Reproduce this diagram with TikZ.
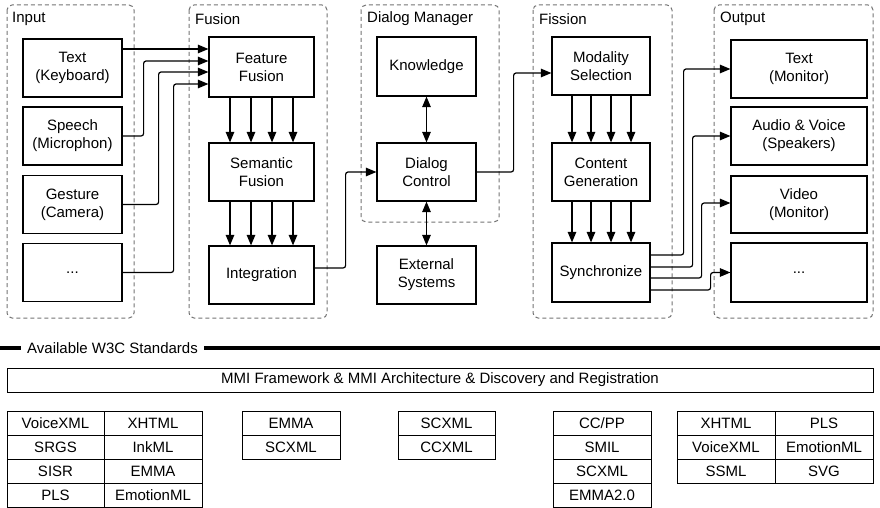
\documentclass[tikz,border=0pt]{standalone}
\usepackage{fontspec}
\setmainfont{Liberation Sans}
\usetikzlibrary{arrows.meta,calc}
\begin{document}
\begin{tikzpicture}[x=1pt,y=-1pt,
  every node/.style={font=\fontsize{15}{18}\selectfont},
  box/.style={draw,line width=1.2pt,inner sep=0pt,align=center},
  grp/.style={draw=black!55,dash pattern=on 4pt off 3pt,line width=1pt,rounded corners=5pt},
  gtitle/.style={anchor=west,inner sep=0pt},
  arr/.style={line width=1.2pt,-{Triangle[length=10.5pt,width=8.5pt]},rounded corners=2.5pt},
  darr/.style={line width=1.2pt,{Triangle[length=10.5pt,width=8.5pt]}-{Triangle[length=10.5pt,width=8.5pt]}},
  cell/.style={draw,line width=1pt,inner sep=0pt,minimum height=24pt}]
\useasboundingbox (0,0) rectangle (880,508);
% groups
\draw[grp] (7,5) rectangle (134,318);
\draw[grp] (189,5) rectangle (327,318);
\draw[grp] (361,5) rectangle (499,222);
\draw[grp] (533,5) rectangle (672,318);
\draw[grp] (714,5) rectangle (873,318);
\node[gtitle] (tin) at (12,19) {Input};
\node[gtitle] (tfu) at (195,19) {Fusion};
\node[gtitle] (tdm) at (367,19) {Dialog Manager};
\node[gtitle] (tfi) at (539,19) {Fission};
\node[gtitle] (tou) at (720,19) {Output};
% input
\node[box,minimum width=99pt,minimum height=58pt] (itx) at (72.5,68) {Text\\(Keyboard)};
\node[box,minimum width=99pt,minimum height=58pt] (isp) at (72.5,136) {Speech\\(Microphon)};
\node[box,minimum width=99pt,minimum height=58pt] (ige) at (72.5,204.5) {Gesture\\(Camera)};
\node[box,minimum width=99pt,minimum height=58pt] (idt) at (72.5,272.5) {...};
% fusion
\node[box,minimum width=105pt,minimum height=60pt] (ff) at (261.5,67) {Feature\\Fusion};
\node[box,minimum width=105pt,minimum height=58pt] (sf) at (261.5,172) {Semantic\\Fusion};
\node[box,minimum width=105pt,minimum height=58pt] (ig) at (261.5,275) {Integration};
% dialog
\node[box,minimum width=99pt,minimum height=59pt] (kn) at (426.5,66.5) {Knowledge};
\node[box,minimum width=99pt,minimum height=58pt] (dc) at (426.5,172) {Dialog\\Control};
\node[box,minimum width=99pt,minimum height=58pt] (es) at (426.5,275) {External\\Systems};
% fission
\node[box,minimum width=98pt,minimum height=58pt] (ms) at (601,66) {Modality\\Selection};
\node[box,minimum width=98pt,minimum height=58pt] (cg) at (601,172) {Content\\Generation};
\node[box,minimum width=98pt,minimum height=59pt] (sy) at (601,272.5) {Synchronize};
% output
\node[box,minimum width=136pt,minimum height=58pt] (otx) at (799,69) {Text\\(Monitor)};
\node[box,minimum width=136pt,minimum height=58pt] (oau) at (799,136) {Audio \& Voice\\(Speakers)};
\node[box,minimum width=136pt,minimum height=57pt] (ovi) at (799,204.5) {Video\\(Monitor)};
\node[box,minimum width=136pt,minimum height=59pt] (odt) at (799,272.5) {...};
% input -> feature fusion
\draw[arr] ($(itx.east)+(0,-19)$) -- ($(ff.west)+(0,-18)$);
\draw[arr] (isp.east) -- ++(21,0) |- ($(ff.west)+(0,-6)$);
\draw[arr] (ige.east) -- ++(36,0) |- ($(ff.west)+(0,5)$);
\draw[arr] (idt.east) -- ++(51,0) |- ($(ff.west)+(0,17)$);
% fusion internal
\foreach \dx in {-31.5,-10.5,10.5,31.5}{
  \draw[arr] ($(ff.south)+(\dx,0)$) -- ($(sf.north)+(\dx,0)$);
  \draw[arr] ($(sf.south)+(\dx,0)$) -- ($(ig.north)+(\dx,0)$);
}
% integration -> dialog control
\draw[arr] ($(ig.east)+(0,-7)$) -- ++(31,0) |- (dc.west);
% dialog
\draw[darr] (kn.south) -- (dc.north);
\draw[darr] (dc.south) -- (es.north);
\draw[arr] (dc.east) -- ++(37,0) |- ($(ms.west)+(0,7)$);
% fission internal
\foreach \dx in {-29,-10,10,30}{
  \draw[arr] ($(ms.south)+(\dx,0)$) -- ($(cg.north)+(\dx,0)$);
  \draw[arr] ($(cg.south)+(\dx,0)$) -- ($(sy.north)+(\dx,0)$);
}
% sync -> outputs
\draw[arr] ($(sy.east)+(0,-17.5)$) -- ++(33,0) |- (otx.west);
\draw[arr] ($(sy.east)+(0,-5.5)$) -- ++(42,0) |- (oau.west);
\draw[arr] ($(sy.east)+(0,5.5)$) -- ++(51,0) |- ($(ovi.west)+(0,-1.5)$);
\draw[arr] ($(sy.east)+(0,17.5)$) -- ++(60,0) |- (odt.west);
% standards header
\node[anchor=west,inner sep=0pt] (w3c) at (27,348) {Available W3C Standards};
\coordinate (hl) at (0,348);
\coordinate (hr) at (880,348);
\draw[line width=4pt] (hl) -- ($(w3c.west)+(-6,0)$);
\draw[line width=4pt] ($(w3c.east)+(6,0)$) -- (hr);
\node[cell,minimum width=866pt] (mmi) at (440,380) {MMI Framework \& MMI Architecture \& Discovery and Registration};
% table 1
\foreach \a/\b [count=\i from 0] in {VoiceXML/XHTML,SRGS/InkML,SISR/EMMA,PLS/EmotionML}{
  \node[cell,minimum width=97pt] (ta\i) at (55.5,423+24*\i) {\a};
  \node[cell,minimum width=98pt] (tb\i) at (153,423+24*\i) {\b};
}
% table 2
\foreach \a [count=\i from 0] in {EMMA,SCXML}{
  \node[cell,minimum width=98pt] (tc\i) at (291,423+24*\i) {\a};
}
% table 3
\foreach \a [count=\i from 0] in {SCXML,CCXML}{
  \node[cell,minimum width=97pt] (td\i) at (446.5,423+24*\i) {\a};
}
% table 4
\foreach \a [count=\i from 0] in {CC/PP,SMIL,SCXML,EMMA2.0}{
  \node[cell,minimum width=98pt] (te\i) at (602,423+24*\i) {\a};
}
% table 5
\foreach \a/\b [count=\i from 0] in {XHTML/PLS,VoiceXML/EmotionML,SSML/SVG}{
  \node[cell,minimum width=98pt] (tf\i) at (726,423+24*\i) {\a};
  \node[cell,minimum width=98pt] (tg\i) at (824,423+24*\i) {\b};
}
\end{tikzpicture}
\end{document}
